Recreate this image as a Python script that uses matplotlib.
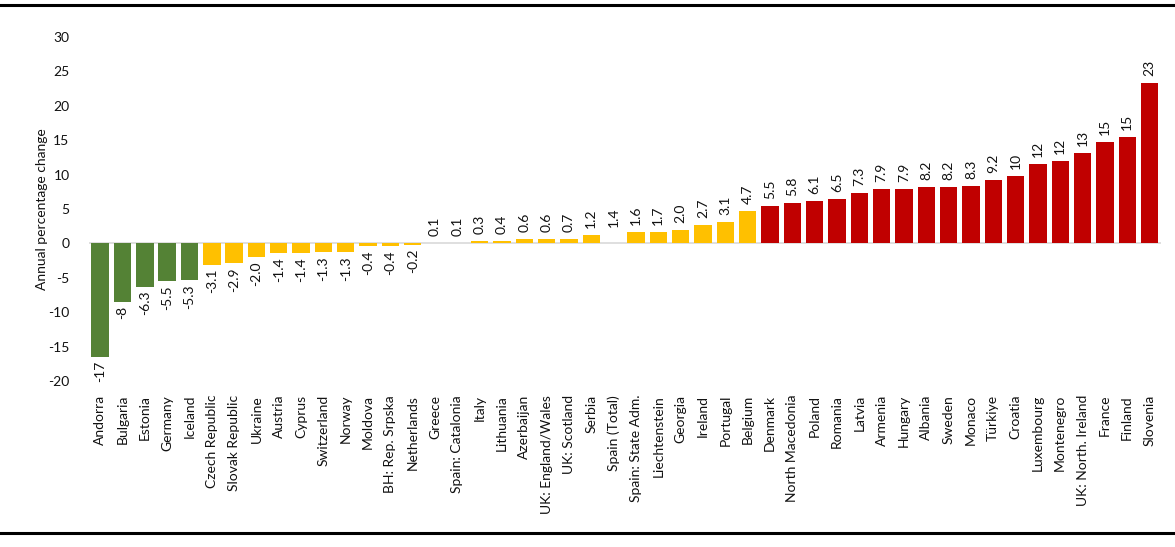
import matplotlib
matplotlib.use("Agg")
import matplotlib.pyplot as plt
from matplotlib.lines import Line2D

plt.rcParams['font.family'] = ['Lato', 'DejaVu Sans']

countries = ["Andorra", "Bulgaria", "Estonia", "Germany", "Iceland",
             "Czech Republic", "Slovak Republic", "Ukraine", "Austria", "Cyprus",
             "Switzerland", "Norway", "Moldova", "BH: Rep. Srpska", "Netherlands",
             "Greece", "Spain: Catalonia", "Italy", "Lithuania", "Azerbaijan",
             "UK: England/Wales", "UK: Scotland", "Serbia", "Spain (Total)", "Spain: State Adm.",
             "Liechtenstein", "Georgia", "Ireland", "Portugal", "Belgium",
             "Denmark", "North Macedonia", "Poland", "Romania", "Latvia",
             "Armenia", "Hungary", "Albania", "Sweden", "Monaco",
             "Türkiye", "Croatia", "Luxembourg", "Montenegro", "UK: North. Ireland",
             "France", "Finland", "Slovenia"]

values = [-16.5, -8.5, -6.3, -5.5, -5.3,
          -3.1, -2.9, -2.0, -1.4, -1.4,
          -1.3, -1.3, -0.4, -0.4, -0.2,
          0.1, 0.1, 0.3, 0.4, 0.6,
          0.6, 0.7, 1.2, 1.4, 1.6,
          1.7, 2.0, 2.7, 3.1, 4.7,
          5.5, 5.8, 6.1, 6.5, 7.3,
          7.9, 7.9, 8.2, 8.2, 8.3,
          9.2, 9.8, 11.6, 12.0, 13.2,
          14.7, 15.4, 23.3]

value_labels = ["-17", "-8", "-6.3", "-5.5", "-5.3",
                "-3.1", "-2.9", "-2.0", "-1.4", "-1.4",
                "-1.3", "-1.3", "-0.4", "-0.4", "-0.2",
                "0.1", "0.1", "0.3", "0.4", "0.6",
                "0.6", "0.7", "1.2", "1.4", "1.6",
                "1.7", "2.0", "2.7", "3.1", "4.7",
                "5.5", "5.8", "6.1", "6.5", "7.3",
                "7.9", "7.9", "8.2", "8.2", "8.3",
                "9.2", "10", "12", "12", "13",
                "15", "15", "23"]

groups = (["decrease"] * 5 + ["stable"] * 18 + ["total"] + ["stable"] * 6
          + ["increase"] * 18)

group_colors = {"decrease": "#548235", "stable": "#FFC000",
                "increase": "#C00000", "total": "none"}

y_ticks = [-20, -15, -10, -5, 0, 5, 10, 15, 20, 25, 30]
y_label = "Annual percentage change"

fig = plt.figure(figsize=(11.75, 5.47), dpi=100)
ax = fig.add_axes([89 / 1175, 1 - 381 / 547, (1160.7 - 89) / 1175, (381 - 36.9) / 547])

x = list(range(len(countries)))
colors = [group_colors[g] for g in groups]
ax.bar(x, values, width=0.78, color=colors, zorder=2)
ax.axhline(0, color="#D9D9D9", lw=1.2, zorder=1)

for xi, v, lab in zip(x, values, value_labels):
    if v >= 0:
        ax.annotate(lab, (xi, v), xytext=(0, 5), textcoords="offset points",
                    rotation=90, ha="center", va="bottom", fontsize=10, color="#111111")
    else:
        ax.annotate(lab, (xi, v), xytext=(0, -3), textcoords="offset points",
                    rotation=90, ha="center", va="top", fontsize=10, color="#111111")

ax.set_xlim(-0.5, len(countries) - 0.5)
ax.set_ylim(-20, 30)
ax.set_yticks(y_ticks)
ax.set_yticklabels([str(t) for t in y_ticks], fontsize=10, color="#111111")
ax.set_xticks(x)
ax.set_xticklabels(countries, rotation=90, fontsize=10, color="#111111")
ax.tick_params(axis="both", length=0)
ax.tick_params(axis="y", pad=14)
ax.tick_params(axis="x", pad=10)
ax.set_ylabel(y_label, fontsize=10, labelpad=0, color="#111111")
for s in ax.spines.values():
    s.set_visible(False)

fig.add_artist(Line2D([0, 1], [1 - 4.5 / 547, 1 - 4.5 / 547], color="black", lw=2.2,
                      transform=fig.transFigure))
fig.add_artist(Line2D([0, 1], [1 - 533 / 547, 1 - 533 / 547], color="black", lw=2.2,
                      transform=fig.transFigure))

fig.savefig("out.png", dpi=100)
